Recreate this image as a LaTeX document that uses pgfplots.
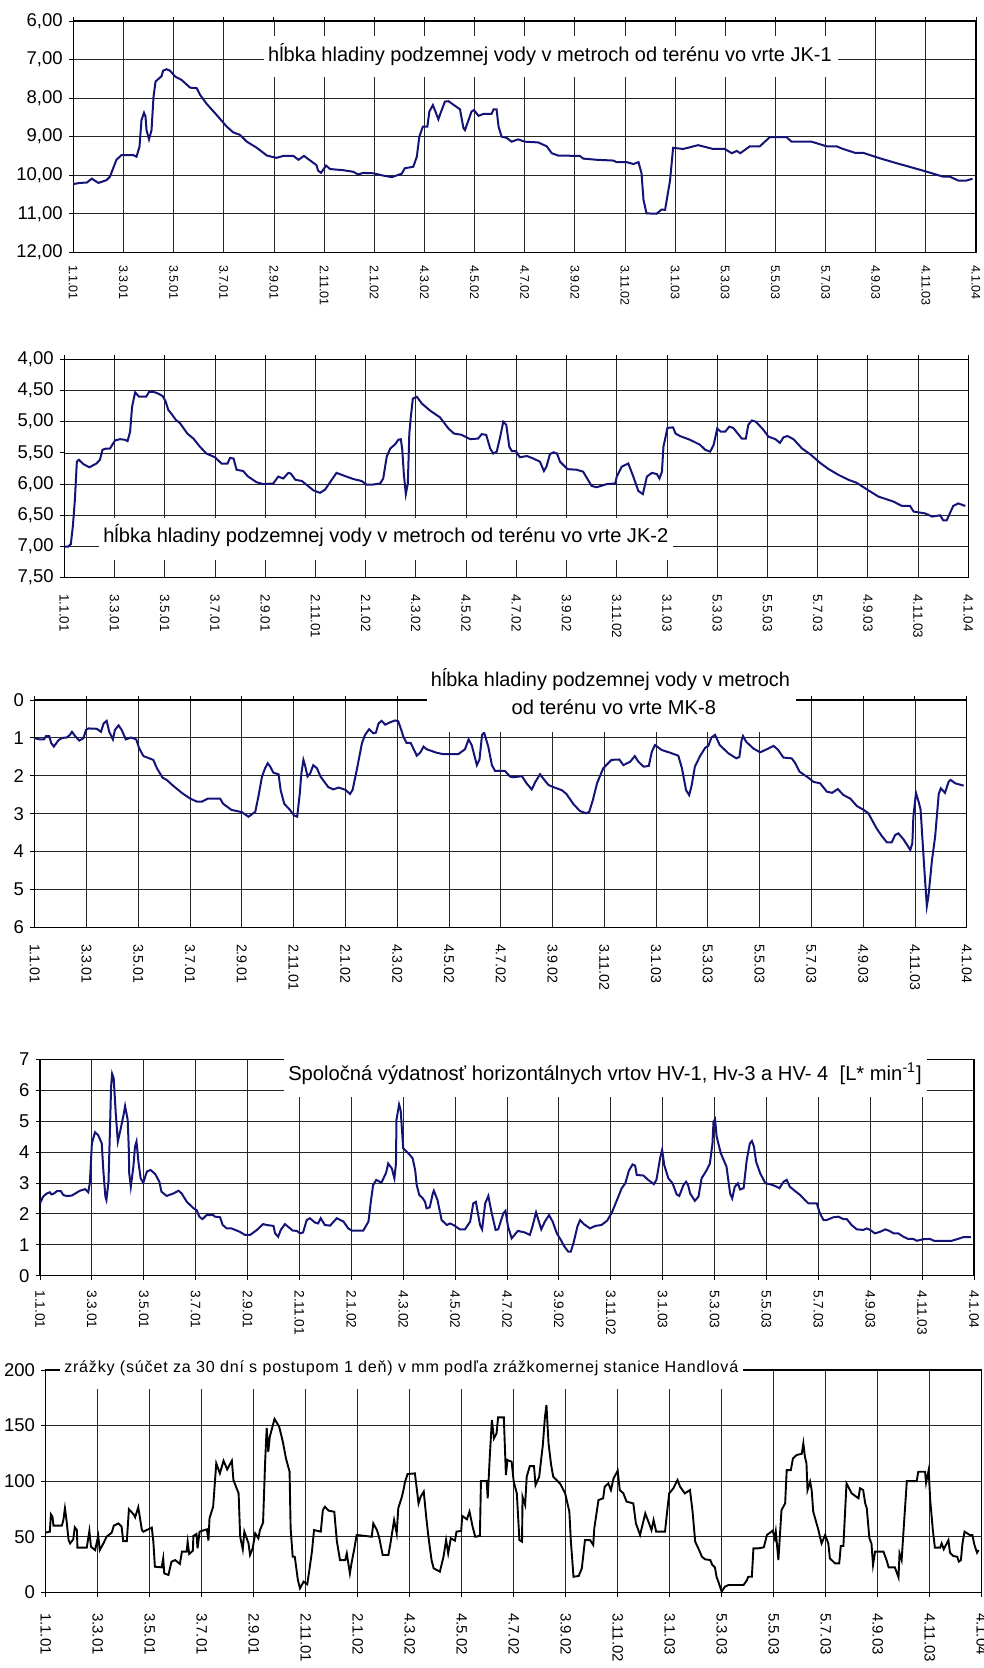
\documentclass[border=0pt]{standalone}
\usepackage{fontspec}
\setmainfont{Liberation Sans}
\newfontfamily\spaced[LetterSpace=5]{Liberation Sans}
\usepackage{graphicx}
\usepackage{pgfplots}
\pgfplotsset{compat=1.18}
\definecolor{serie}{RGB}{20,20,120}
\pgfplotsset{
 base/.style={
  scale only axis, clip=false,
  xmin=0, xmax=18, xtick={0,1,...,18},
  xticklabels={1.1.01,3.3.01,3.5.01,3.7.01,2.9.01,2.11.01,2.1.02,4.3.02,4.5.02,4.7.02,3.9.02,3.11.02,3.1.03,5.3.03,5.5.03,5.7.03,4.9.03,4.11.03,4.1.04},
  grid=major,
  major grid style={black!85, line width=0.8pt},
  axis line style={black, line width=1.3pt},
  tick align=outside, major tick length=4.5pt,
  tick style={black, line width=0.9pt},
  ytick pos=left,
  yticklabel style={font=\fontsize{18.5}{20}\selectfont, inner sep=0pt, anchor=east},
  yticklabel shift=6pt,
  xticklabel style={rotate=-90, anchor=west, inner sep=0pt},
 },
 dline/.style={line width=2pt, color=serie, mark=none},
}
\begin{document}
\begin{tikzpicture}
% ---------------- Panel 1: JK-1
\begin{axis}[base, at={(73.3pt,-21pt)}, anchor=north west, width=902.7pt, height=231.3pt,
 ymin=6, ymax=12, y dir=reverse, ytick={6,7,...,12},
 yticklabels={{6,00},{7,00},{8,00},{9,00},{10,00},{11,00},{12,00}},
 xtick pos=right, xticklabel pos=left, xticklabel shift=8pt,
 xticklabel style={font=\fontsize{12.5}{14}\selectfont}]
\addplot[dline] coordinates {(0,10.23)(0.13,10.2)(0.27,10.19)(0.37,10.09)(0.5,10.2)(0.66,10.13)(0.73,10.04)(0.86,9.6)(0.96,9.48)(1.2,9.48)(1.26,9.52)(1.32,9.26)(1.36,8.57)(1.41,8.38)(1.44,8.48)(1.46,8.83)(1.51,9.07)(1.56,8.83)(1.6,7.96)(1.64,7.57)(1.7,7.5)(1.76,7.43)(1.79,7.29)(1.86,7.25)(1.93,7.29)(2.03,7.44)(2.16,7.53)(2.33,7.73)(2.46,7.74)(2.53,7.92)(2.66,8.15)(2.86,8.44)(3.06,8.74)(3.19,8.89)(3.32,8.95)(3.46,9.13)(3.66,9.29)(3.86,9.49)(4.05,9.55)(4.19,9.5)(4.39,9.5)(4.49,9.6)(4.6,9.5)(4.85,9.74)(4.88,9.88)(4.94,9.94)(5.04,9.75)(5.12,9.84)(5.38,9.87)(5.58,9.91)(5.68,9.98)(5.78,9.94)(5.98,9.95)(6.18,10.01)(6.35,10.05)(6.55,9.96)(6.61,9.82)(6.78,9.78)(6.85,9.52)(6.9,9.0)(6.97,8.74)(7.06,8.74)(7.1,8.35)(7.17,8.18)(7.21,8.31)(7.28,8.55)(7.32,8.4)(7.41,8.09)(7.48,8.08)(7.71,8.29)(7.78,8.78)(7.81,8.83)(7.94,8.35)(7.99,8.31)(8.08,8.46)(8.18,8.41)(8.34,8.41)(8.38,8.29)(8.44,8.29)(8.48,8.74)(8.54,9.0)(8.64,9.03)(8.74,9.13)(8.87,9.07)(9.0,9.13)(9.27,9.15)(9.44,9.25)(9.54,9.43)(9.67,9.49)(10.1,9.5)(10.17,9.57)(10.44,9.6)(10.77,9.62)(10.83,9.66)(11.03,9.66)(11.17,9.71)(11.27,9.66)(11.33,9.95)(11.37,10.64)(11.43,10.99)(11.63,11.0)(11.73,10.89)(11.8,10.9)(11.9,10.13)(11.96,9.29)(12.16,9.32)(12.46,9.22)(12.76,9.32)(12.99,9.32)(13.13,9.43)(13.23,9.37)(13.3,9.43)(13.49,9.25)(13.69,9.25)(13.89,9.01)(14.22,9.01)(14.32,9.13)(14.72,9.13)(15.02,9.25)(15.22,9.25)(15.35,9.32)(15.59,9.42)(15.75,9.42)(16.08,9.56)(16.42,9.69)(16.75,9.81)(17.02,9.91)(17.35,10.04)(17.48,10.04)(17.65,10.14)(17.81,10.14)(17.93,10.09)};
\end{axis}
\fill[white] (264pt,-35.7pt) rectangle (837.7pt,-77.3pt);
\node[anchor=base, inner sep=0pt] at (550pt,-61.7pt) {\resizebox{563.7pt}{!}{hĺbka hladiny podzemnej vody v metroch od terénu vo vrte JK-1}};

% ---------------- Panel 2: JK-2
\begin{axis}[base, at={(64.3pt,-359.3pt)}, anchor=north west, width=904pt, height=218.4pt,
 ymin=4, ymax=7.5, y dir=reverse, ytick={4,4.5,...,7.5},
 yticklabels={{4,00},{4,50},{5,00},{5,50},{6,00},{6,50},{7,00},{7,50}},
 xtick pos=right, xticklabel pos=left, xticklabel shift=12pt,
 xticklabel style={font=\fontsize{13.4}{15}\selectfont}]
\addplot[dline] coordinates {(0,7.0)(0.08,7.0)(0.13,6.96)(0.17,6.68)(0.21,6.26)(0.25,5.64)(0.29,5.61)(0.38,5.68)(0.5,5.73)(0.64,5.67)(0.71,5.61)(0.76,5.45)(0.83,5.43)(0.91,5.43)(1.01,5.3)(1.11,5.28)(1.21,5.29)(1.26,5.31)(1.31,5.16)(1.35,4.76)(1.41,4.53)(1.49,4.6)(1.63,4.6)(1.69,4.52)(1.77,4.52)(1.87,4.55)(1.96,4.59)(2.02,4.68)(2.07,4.81)(2.14,4.88)(2.22,4.97)(2.3,5.02)(2.45,5.19)(2.57,5.27)(2.7,5.4)(2.83,5.51)(3.0,5.57)(3.13,5.67)(3.25,5.67)(3.3,5.58)(3.37,5.59)(3.43,5.77)(3.56,5.79)(3.66,5.88)(3.83,5.97)(3.96,6.0)(4.16,5.99)(4.26,5.88)(4.36,5.91)(4.46,5.82)(4.51,5.83)(4.6,5.93)(4.73,5.95)(4.96,6.1)(5.09,6.14)(5.19,6.09)(5.42,5.82)(5.62,5.88)(5.76,5.92)(5.92,5.95)(6.02,6.01)(6.12,6.01)(6.29,5.99)(6.35,5.91)(6.42,5.56)(6.49,5.43)(6.59,5.36)(6.65,5.29)(6.7,5.28)(6.73,5.45)(6.76,5.83)(6.8,6.16)(6.84,5.99)(6.87,5.19)(6.9,4.92)(6.94,4.63)(7.02,4.6)(7.12,4.71)(7.28,4.82)(7.48,4.93)(7.65,5.11)(7.76,5.19)(7.91,5.21)(8.08,5.28)(8.24,5.27)(8.31,5.2)(8.4,5.21)(8.48,5.43)(8.54,5.51)(8.61,5.48)(8.68,5.24)(8.74,5.0)(8.8,5.05)(8.86,5.4)(8.91,5.47)(8.99,5.47)(9.07,5.57)(9.21,5.55)(9.34,5.59)(9.47,5.64)(9.55,5.79)(9.6,5.72)(9.67,5.52)(9.74,5.49)(9.81,5.51)(9.87,5.64)(10.02,5.76)(10.2,5.77)(10.33,5.8)(10.5,6.03)(10.6,6.05)(10.8,6.0)(10.97,5.99)(11.0,5.88)(11.1,5.72)(11.23,5.67)(11.33,5.88)(11.43,6.11)(11.52,6.16)(11.6,5.88)(11.7,5.82)(11.8,5.84)(11.85,5.91)(11.9,5.8)(11.93,5.4)(12.01,5.1)(12.12,5.09)(12.17,5.19)(12.26,5.23)(12.46,5.29)(12.66,5.37)(12.76,5.45)(12.86,5.48)(12.93,5.37)(13.0,5.11)(13.07,5.16)(13.16,5.16)(13.24,5.08)(13.32,5.1)(13.49,5.27)(13.57,5.27)(13.62,5.05)(13.69,4.98)(13.77,5.0)(13.92,5.13)(14.02,5.24)(14.16,5.28)(14.25,5.34)(14.32,5.25)(14.4,5.23)(14.52,5.28)(14.69,5.43)(14.85,5.52)(15.05,5.66)(15.22,5.76)(15.41,5.85)(15.61,5.93)(15.78,5.98)(16.01,6.1)(16.21,6.2)(16.51,6.28)(16.68,6.35)(16.84,6.35)(16.91,6.44)(17.14,6.47)(17.28,6.52)(17.44,6.5)(17.5,6.58)(17.57,6.58)(17.7,6.35)(17.8,6.31)(17.94,6.35)};
\end{axis}
\fill[white] (99pt,-518pt) rectangle (673pt,-560pt);
\node[anchor=base, inner sep=0pt] at (385.8pt,-542.7pt) {\resizebox{565pt}{!}{hĺbka hladiny podzemnej vody v metroch od terénu vo vrte JK-2}};

% ---------------- Panel 3: MK-8
\begin{axis}[base, at={(34.7pt,-700pt)}, anchor=north west, width=932pt, height=227.3pt,
 ymin=0, ymax=6, y dir=reverse, ytick={0,1,...,6},
 yticklabels={0,1,2,3,4,5,6},
 xtick pos=right, xticklabel pos=left, xticklabel shift=12pt,
 xticklabel style={font=\fontsize{14.2}{16}\selectfont}]
\addplot[dline] coordinates {(0,1.01)(0.1,1.04)(0.18,1.04)(0.22,0.95)(0.28,0.95)(0.32,1.14)(0.37,1.23)(0.46,1.06)(0.53,1.0)(0.62,0.99)(0.68,0.92)(0.72,0.84)(0.78,0.95)(0.86,1.07)(0.94,1.01)(0.99,0.79)(1.04,0.75)(1.2,0.76)(1.28,0.84)(1.33,0.62)(1.39,0.55)(1.44,0.84)(1.51,1.04)(1.55,0.79)(1.62,0.67)(1.68,0.79)(1.76,1.04)(1.86,0.99)(1.96,1.04)(2.02,1.28)(2.1,1.48)(2.29,1.58)(2.36,1.8)(2.47,2.05)(2.55,2.11)(2.68,2.27)(2.84,2.45)(3.0,2.6)(3.13,2.68)(3.23,2.68)(3.35,2.6)(3.58,2.6)(3.64,2.74)(3.8,2.9)(4.0,2.96)(4.13,3.08)(4.26,2.95)(4.32,2.55)(4.39,2.02)(4.45,1.8)(4.5,1.67)(4.55,1.76)(4.61,1.92)(4.71,1.96)(4.75,2.38)(4.82,2.74)(4.93,2.9)(5.01,3.05)(5.07,3.08)(5.12,2.46)(5.15,1.94)(5.19,1.58)(5.22,1.72)(5.27,2.02)(5.32,1.94)(5.38,1.72)(5.45,1.8)(5.52,2.02)(5.67,2.3)(5.77,2.36)(5.87,2.31)(6.0,2.37)(6.09,2.48)(6.14,2.37)(6.22,1.85)(6.32,1.14)(6.38,0.92)(6.46,0.77)(6.54,0.88)(6.59,0.86)(6.64,0.62)(6.7,0.55)(6.77,0.65)(6.86,0.59)(6.96,0.54)(7.02,0.56)(7.08,0.79)(7.12,0.97)(7.18,1.13)(7.26,1.13)(7.38,1.47)(7.45,1.38)(7.51,1.23)(7.57,1.3)(7.76,1.39)(7.89,1.43)(8.18,1.43)(8.31,1.3)(8.38,1.04)(8.44,1.19)(8.54,1.72)(8.59,1.57)(8.64,0.92)(8.68,0.86)(8.76,1.23)(8.83,1.72)(8.89,1.87)(9.08,1.87)(9.18,2.02)(9.24,2.04)(9.41,2.01)(9.5,2.2)(9.6,2.36)(9.67,2.16)(9.76,1.96)(9.82,2.07)(9.92,2.24)(10.02,2.3)(10.18,2.38)(10.27,2.48)(10.4,2.74)(10.53,2.93)(10.65,2.99)(10.71,2.95)(10.78,2.64)(10.86,2.2)(10.98,1.8)(11.14,1.58)(11.29,1.57)(11.37,1.72)(11.5,1.63)(11.59,1.48)(11.66,1.63)(11.76,1.76)(11.86,1.74)(11.92,1.36)(11.98,1.19)(12.11,1.32)(12.27,1.39)(12.43,1.47)(12.5,1.8)(12.58,2.38)(12.64,2.51)(12.69,2.24)(12.75,1.76)(12.85,1.48)(12.95,1.26)(13.01,1.21)(13.07,0.99)(13.14,0.92)(13.23,1.19)(13.4,1.41)(13.55,1.54)(13.61,1.5)(13.65,1.08)(13.68,0.95)(13.74,1.1)(13.88,1.28)(14.01,1.38)(14.14,1.3)(14.27,1.21)(14.36,1.32)(14.46,1.52)(14.62,1.54)(14.69,1.67)(14.77,1.89)(14.94,2.05)(15.04,2.16)(15.17,2.2)(15.3,2.42)(15.4,2.45)(15.51,2.35)(15.62,2.51)(15.75,2.6)(15.88,2.8)(16.01,2.9)(16.1,2.99)(16.26,3.39)(16.36,3.59)(16.46,3.76)(16.55,3.76)(16.62,3.56)(16.68,3.52)(16.78,3.68)(16.86,3.85)(16.91,3.96)(16.95,3.78)(16.97,3.08)(17.02,2.45)(17.07,2.68)(17.11,2.9)(17.15,3.78)(17.2,4.84)(17.23,5.44)(17.26,5.19)(17.33,4.22)(17.39,3.61)(17.46,2.48)(17.5,2.33)(17.58,2.45)(17.65,2.16)(17.69,2.11)(17.78,2.2)(17.94,2.26)};
\end{axis}
\fill[white] (426.7pt,-655pt) rectangle (796pt,-731.7pt);
\node[anchor=base, inner sep=0pt] at (610.5pt,-686.7pt) {\resizebox{359pt}{!}{hĺbka hladiny podzemnej vody v metroch}};
\node[anchor=base, inner sep=0pt] at (613.8pt,-714.3pt) {\resizebox{204.3pt}{!}{od terénu vo vrte MK-8}};

% ---------------- Panel 4: HV
\begin{axis}[base, at={(40pt,-1059.3pt)}, anchor=north west, width=934pt, height=216.4pt,
 ymin=0, ymax=7, ytick={0,1,...,7},
 yticklabels={0,1,2,3,4,5,6,7},
 xtick pos=left, xticklabel shift=10pt,
 xticklabel style={font=\fontsize{13.7}{15}\selectfont}]
\addplot[dline] coordinates {(0,2.34)(0.06,2.56)(0.13,2.66)(0.19,2.7)(0.22,2.63)(0.26,2.65)(0.33,2.74)(0.4,2.74)(0.45,2.61)(0.51,2.58)(0.61,2.59)(0.77,2.75)(0.87,2.8)(0.93,2.7)(0.96,2.99)(1.0,4.28)(1.06,4.64)(1.12,4.55)(1.19,4.28)(1.22,3.42)(1.26,2.56)(1.28,2.45)(1.32,3.04)(1.35,4.82)(1.37,6.12)(1.39,6.53)(1.42,6.39)(1.46,5.25)(1.5,4.34)(1.55,4.71)(1.61,5.2)(1.64,5.49)(1.69,5.04)(1.71,4.17)(1.72,3.31)(1.75,2.88)(1.8,3.53)(1.83,4.17)(1.86,4.34)(1.9,3.64)(1.94,3.15)(1.99,3.01)(2.06,3.37)(2.13,3.42)(2.22,3.29)(2.3,3.04)(2.34,2.72)(2.44,2.58)(2.57,2.66)(2.67,2.75)(2.73,2.66)(2.83,2.39)(2.96,2.18)(3.02,2.12)(3.07,1.91)(3.13,1.83)(3.21,1.96)(3.34,1.96)(3.37,1.91)(3.47,1.89)(3.52,1.64)(3.6,1.53)(3.69,1.53)(3.85,1.42)(3.95,1.32)(4.05,1.32)(4.18,1.48)(4.3,1.67)(4.37,1.64)(4.5,1.61)(4.53,1.37)(4.59,1.26)(4.64,1.48)(4.72,1.67)(4.82,1.53)(4.87,1.46)(4.95,1.45)(5.01,1.37)(5.07,1.4)(5.14,1.8)(5.2,1.86)(5.3,1.72)(5.36,1.69)(5.41,1.86)(5.49,1.64)(5.59,1.62)(5.72,1.86)(5.85,1.75)(5.94,1.53)(6.01,1.46)(6.23,1.46)(6.33,1.75)(6.38,2.45)(6.42,2.93)(6.48,3.1)(6.58,3.01)(6.67,3.33)(6.71,3.63)(6.78,3.47)(6.83,3.15)(6.86,3.63)(6.87,5.04)(6.92,5.54)(6.95,5.36)(7.0,4.12)(7.1,3.96)(7.18,3.8)(7.23,3.42)(7.26,2.93)(7.31,2.61)(7.37,2.52)(7.42,2.39)(7.45,2.18)(7.51,2.21)(7.57,2.66)(7.59,2.75)(7.66,2.45)(7.74,1.8)(7.84,1.64)(7.9,1.69)(7.97,1.64)(8.09,1.5)(8.19,1.5)(8.29,1.75)(8.35,2.34)(8.4,2.39)(8.48,1.64)(8.52,1.5)(8.58,2.34)(8.64,2.58)(8.7,2.07)(8.78,1.48)(8.83,1.5)(8.93,2.02)(8.97,2.1)(9.02,1.59)(9.09,1.21)(9.21,1.45)(9.34,1.4)(9.44,1.32)(9.49,1.59)(9.56,2.05)(9.66,1.5)(9.73,1.75)(9.81,1.96)(9.88,1.75)(9.96,1.37)(10.03,1.18)(10.1,0.96)(10.18,0.78)(10.23,0.78)(10.28,1.05)(10.36,1.61)(10.41,1.8)(10.48,1.67)(10.6,1.53)(10.7,1.61)(10.82,1.64)(10.93,1.78)(11.02,2.04)(11.12,2.45)(11.21,2.83)(11.28,2.99)(11.35,3.4)(11.42,3.6)(11.47,3.56)(11.5,3.26)(11.63,3.24)(11.72,3.1)(11.83,2.96)(11.88,3.1)(11.95,3.8)(11.99,4.07)(12.03,3.58)(12.11,3.15)(12.19,2.99)(12.27,2.63)(12.32,2.58)(12.4,2.93)(12.45,3.04)(12.49,2.93)(12.53,2.66)(12.62,2.42)(12.69,2.56)(12.75,3.15)(12.85,3.42)(12.91,3.63)(12.96,4.28)(12.98,4.98)(13.01,5.06)(13.04,4.5)(13.12,3.96)(13.23,3.53)(13.3,2.66)(13.34,2.5)(13.39,2.88)(13.45,2.99)(13.49,2.79)(13.56,2.83)(13.62,3.74)(13.68,4.28)(13.72,4.36)(13.76,4.17)(13.8,3.69)(13.88,3.31)(13.98,2.99)(14.07,2.96)(14.17,2.9)(14.25,2.83)(14.33,3.04)(14.39,3.1)(14.45,2.88)(14.55,2.74)(14.65,2.61)(14.74,2.45)(14.81,2.34)(14.97,2.34)(15.03,2.02)(15.1,1.8)(15.16,1.8)(15.29,1.89)(15.39,1.91)(15.48,1.83)(15.55,1.83)(15.64,1.64)(15.74,1.5)(15.87,1.48)(15.93,1.53)(16.0,1.48)(16.09,1.37)(16.19,1.42)(16.29,1.5)(16.37,1.45)(16.45,1.37)(16.54,1.37)(16.64,1.26)(16.73,1.19)(16.83,1.19)(16.9,1.13)(17.02,1.18)(17.15,1.19)(17.23,1.13)(17.38,1.13)(17.57,1.13)(17.67,1.18)(17.8,1.25)(17.94,1.25)};
\end{axis}
\fill[white] (284pt,-1054pt) rectangle (926.7pt,-1097.3pt);
\node[anchor=base, inner sep=0pt] at (605pt,-1080pt) {\resizebox{633.4pt}{!}{Spoločná výdatnosť horizontálnych vrtov HV-1, Hv-3 a HV- 4\ \ [L* min\textsuperscript{-1}]}};

% ---------------- Panel 5: precipitation
\begin{axis}[base, at={(45.7pt,-1370pt)}, anchor=north west, width=936pt, height=222.3pt,
 ymin=0, ymax=200, ytick={0,50,...,200},
 yticklabels={0,50,100,150,200},
 xtick pos=left, xticklabel shift=16pt,
 xticklabel style={font=\fontsize{15}{17}\selectfont}]
\addplot[line width=1.9pt, black, mark=none] coordinates {(0,53.7)(0.08,54.6)(0.1,70.2)(0.13,68)(0.15,60)(0.31,60)(0.34,65)(0.37,75.6)(0.4,65)(0.44,47)(0.47,44)(0.53,47.7)(0.56,58.5)(0.6,56)(0.61,40.2)(0.79,40.2)(0.84,55.2)(0.87,41)(0.95,38)(1.01,50.7)(1.04,38)(1.11,44)(1.17,50)(1.27,53.7)(1.31,60)(1.4,62)(1.46,59)(1.49,46)(1.56,46)(1.6,74.7)(1.69,70.2)(1.72,67.5)(1.78,76.5)(1.85,56)(1.88,54.6)(2.04,58.2)(2.07,45.6)(2.1,23)(2.23,22.5)(2.26,30.6)(2.28,17)(2.36,15.6)(2.42,27.6)(2.49,29)(2.58,25.5)(2.62,36.6)(2.71,36.6)(2.73,45.6)(2.76,34.5)(2.83,37.5)(2.84,50.7)(2.9,52.5)(2.92,39.6)(2.96,54.6)(3.1,56.7)(3.13,46.5)(3.15,66.6)(3.22,77)(3.28,116)(3.35,107)(3.42,118.4)(3.49,110.6)(3.58,118.4)(3.61,101)(3.71,89)(3.74,50)(3.79,38.7)(3.82,54.6)(3.9,44)(3.93,33.6)(3.98,39.6)(4.03,53)(4.09,48.6)(4.12,56)(4.18,62.7)(4.22,117.5)(4.25,148)(4.28,126.5)(4.31,140)(4.4,156)(4.49,149)(4.56,135.5)(4.62,120.5)(4.69,108.5)(4.71,57.6)(4.75,32)(4.79,32)(4.85,11)(4.89,3.6)(4.96,9.6)(5.03,7.2)(5.07,20)(5.12,36.6)(5.16,56)(5.29,54.6)(5.33,74)(5.37,77)(5.44,73.5)(5.55,72.5)(5.6,45.6)(5.66,29)(5.76,29)(5.79,35)(5.85,17)(5.88,26)(5.93,38)(5.98,51.6)(6.27,50)(6.3,62)(6.37,56)(6.41,50)(6.48,33.6)(6.59,33.6)(6.63,44)(6.7,65)(6.75,53)(6.78,75.6)(6.85,86)(6.88,92)(6.91,99.5)(6.96,106.4)(7.1,107)(7.17,80)(7.21,86)(7.27,90.6)(7.32,66.6)(7.36,50)(7.42,29)(7.46,21.6)(7.58,18.6)(7.65,32)(7.7,47)(7.74,35)(7.79,48.6)(7.87,46.5)(7.9,54.6)(7.99,55.2)(8.01,68.7)(8.1,65.7)(8.15,72.6)(8.21,59)(8.26,50)(8.35,50.7)(8.37,100)(8.48,100)(8.5,84.6)(8.54,122)(8.58,155)(8.62,138.5)(8.67,143)(8.7,157.4)(8.81,157.4)(8.85,105.5)(8.88,119)(8.96,117.5)(9.0,99.6)(9.06,89)(9.11,47)(9.16,45.6)(9.17,86)(9.22,78.6)(9.25,104)(9.31,113.6)(9.39,113.6)(9.42,96.5)(9.49,104)(9.56,132.5)(9.6,157.4)(9.63,168.5)(9.67,134)(9.72,114.5)(9.76,104)(9.89,98)(9.99,89)(10.07,72.6)(10.1,45.6)(10.15,14)(10.25,14.7)(10.31,21.6)(10.37,47)(10.47,47)(10.53,42.6)(10.55,57.6)(10.63,83)(10.72,84.6)(10.75,95)(10.82,98)(10.87,92)(10.92,102.5)(11.0,109.4)(11.04,92)(11.11,89)(11.17,81.6)(11.3,80)(11.35,62)(11.43,51.6)(11.53,71)(11.59,63.6)(11.65,56)(11.69,65)(11.74,54.6)(11.91,54.6)(11.94,68)(11.99,89)(12.07,93.6)(12.15,101)(12.2,95)(12.29,89)(12.39,92)(12.44,72.6)(12.49,45.6)(12.55,39.6)(12.62,32)(12.68,29.7)(12.78,29)(12.82,24.6)(12.87,22.5)(12.9,14)(12.94,9)(13.0,0.6)(13.06,5)(13.13,6.6)(13.42,6.6)(13.48,10.5)(13.51,14)(13.58,14)(13.61,39.6)(13.71,39.6)(13.81,40.5)(13.87,51.6)(13.93,53.7)(13.98,55.5)(14.02,48.6)(14.04,54.6)(14.09,29)(14.11,44)(14.15,74)(14.22,80)(14.25,110)(14.33,110)(14.37,120.5)(14.44,123.5)(14.54,124.7)(14.57,134)(14.6,122)(14.63,116)(14.65,92)(14.7,99.6)(14.73,92)(14.76,72.6)(14.86,56)(14.92,44)(14.99,51.6)(15.05,44)(15.08,30.6)(15.18,26)(15.26,26)(15.29,41.7)(15.34,41.7)(15.4,98)(15.5,89)(15.63,84.6)(15.66,93.6)(15.72,92)(15.76,80)(15.79,75.6)(15.84,48.6)(15.88,44)(15.91,24.6)(15.95,36.6)(16.11,36.6)(16.17,29)(16.21,22.5)(16.33,22.5)(16.4,13.5)(16.42,35)(16.46,29)(16.51,65)(16.56,100)(16.75,100)(16.78,108.5)(16.91,108.5)(16.93,98.6)(16.98,110)(17.01,83)(17.06,56)(17.1,40.2)(17.2,40.2)(17.23,44)(17.27,38.7)(17.36,47)(17.39,35.7)(17.45,32.7)(17.53,32)(17.56,27.6)(17.6,29)(17.63,44)(17.67,54.6)(17.77,51.6)(17.82,51.6)(17.86,42.6)(17.91,35.7)(17.94,38)};
\end{axis}
\fill[white] (60pt,-1352pt) rectangle (743.3pt,-1389.3pt);
\node[anchor=base, inner sep=0pt] at (401.3pt,-1372pt) {\resizebox{674pt}{!}{\spaced zrážky (súčet za 30 dní s postupom 1 deň) v mm podľa zrážkomernej stanice Handlová}};

\pgfresetboundingbox
\useasboundingbox (0pt,0pt) rectangle (983pt,-1668pt);
\end{tikzpicture}
\end{document}
